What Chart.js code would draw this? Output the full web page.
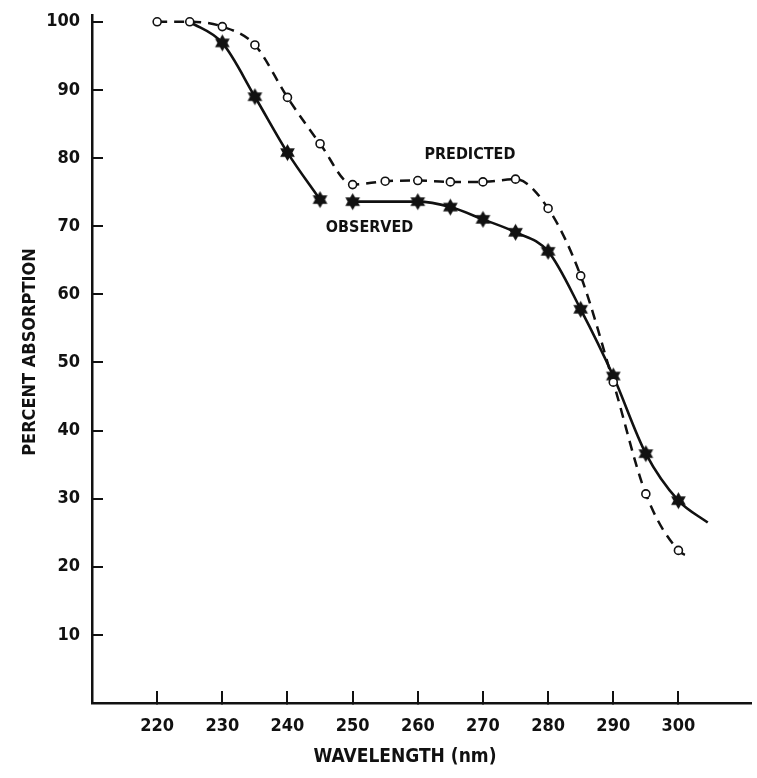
<!DOCTYPE html>
<html>
<head>
<meta charset="utf-8">
<title>Percent absorption vs wavelength</title>
<script src="https://cdn.jsdelivr.net/npm/chart.js@4.4.1/dist/chart.umd.min.js"></script>
<style>
  html, body { margin: 0; padding: 0; background: #fff; overflow: hidden; }
  #wrap { width: 757px; height: 778px; position: relative; }
  #chart { display: block; }
</style>
</head>
<body>
<div id="wrap"><canvas id="chart"></canvas></div>
<script>
"use strict";

// Data
const predictedX = [220, 225, 230, 235, 240, 245, 250, 255, 260, 265, 270, 275, 280, 285, 290, 295, 300, 302];
const predictedY = [100, 100, 99.3, 96.6, 88.9, 82.1, 76.1, 76.6, 76.7, 76.5, 76.5, 76.9, 72.6, 62.7, 47.1, 30.7, 22.4, 21.4];
const predictedMarked = [1, 1, 1, 1, 1, 1, 1, 1, 1, 1, 1, 1, 1, 1, 1, 1, 1, 0];

// observed curve has a break between 245 and 250
const observedX = [225, 230, 235, 240, 245, 247.5, 250, 260, 265, 270, 275, 280, 285, 290, 295, 300, 304.5];
const observedY = [100, 96.9, 89.0, 80.8, 73.9, null, 73.6, 73.6, 72.8, 71.0, 69.1, 66.3, 57.8, 48.0, 36.6, 29.7, 26.5];
const observedMarked = [0, 1, 1, 1, 1, 0, 1, 1, 1, 1, 1, 1, 1, 1, 1, 1, 0];

const xTicks = [220, 230, 240, 250, 260, 270, 280, 290, 300];
const yTicks = [10, 20, 30, 40, 50, 60, 70, 80, 90, 100];

// Curve labels, placed in data units
const curveLabels = [
    { text: 'PREDICTED', x: 268, y: 80.5 },
    { text: 'OBSERVED', x: 252.6, y: 69.7 }
];

const FONT = "'DejaVu Sans Condensed', 'DejaVu Sans', sans-serif";

// filled six-point star marker
function makeStar(r) {
    const c = document.createElement('canvas');
    const s = Math.ceil(r * 2 + 2);
    c.width = s; c.height = s;
    const g = c.getContext('2d');
    g.translate(s / 2, s / 2);
    g.beginPath();
    for (let i = 0; i < 12; i++) {
        const a = -Math.PI / 2 + i * Math.PI / 6;
        const rr = i % 2 === 0 ? r : r * 0.58;
        g.lineTo(Math.cos(a) * rr, Math.sin(a) * rr);
    }
    g.closePath();
    g.fillStyle = '#111';
    g.fill();
    return c;
}
const star = makeStar(8.5);

const toPoints = (xs, ys) => xs.map((x, i) => ({ x: x, y: ys[i] }));

const textPlugin = {
    id: 'figureText',
    afterDraw(chart) {
        const ctx = chart.ctx;
        const xs = chart.scales.x, ys = chart.scales.y;
        ctx.save();
        ctx.fillStyle = '#111';
        ctx.textAlign = 'center';
        ctx.textBaseline = 'middle';
        ctx.font = 'bold 16px ' + FONT;
        curveLabels.forEach(l => {
            ctx.fillText(l.text, xs.getPixelForValue(l.x), ys.getPixelForValue(l.y));
        });
        // axis titles
        ctx.font = 'bold 19px ' + FONT;
        ctx.fillText('WAVELENGTH (nm)', 405, 757);
        ctx.translate(30, 352);
        ctx.rotate(-Math.PI / 2);
        ctx.font = 'bold 18px ' + FONT;
        ctx.fillText('PERCENT ABSORPTION', 0, 0);
        ctx.restore();
    }
};

new Chart(document.getElementById('chart'), {
    type: 'line',
    data: {
        datasets: [{
            label: 'Predicted',
            data: toPoints(predictedX, predictedY),
            borderColor: '#111',
            borderWidth: 2.5,
            borderDash: [10, 7],
            cubicInterpolationMode: 'monotone',
            pointStyle: 'circle',
            pointRadius: predictedMarked.map(m => m ? 4 : 0),
            pointBackgroundColor: '#fff',
            pointBorderColor: '#111',
            pointBorderWidth: 1.6,
            fill: false
        }, {
            label: 'Observed',
            data: toPoints(observedX, observedY),
            borderColor: '#111',
            borderWidth: 2.6,
            spanGaps: false,
            cubicInterpolationMode: 'monotone',
            pointStyle: star,
            pointRadius: observedMarked.map(m => m ? 8 : 0),
            fill: false
        }]
    },
    options: {
        responsive: true,
        maintainAspectRatio: false,
        animation: false,
        events: [],
        layout: { padding: { top: 15, right: 0, left: 0, bottom: 0 } },
        plugins: {
            legend: { display: false },
            tooltip: { enabled: false }
        },
        scales: {
            x: {
                type: 'linear',
                min: 210,
                max: 311.2,
                afterBuildTicks: s => { s.ticks = xTicks.map(v => ({ value: v })); },
                afterFit: s => { s.height = 75; s.paddingLeft = 0; s.paddingRight = 0; },
                grid: { drawOnChartArea: false, drawTicks: true, tickLength: -12, color: '#111', lineWidth: 2 },
                border: { display: true, color: '#111', width: 2.5 },
                ticks: {
                    padding: 25,
                    color: '#111',
                    font: { family: FONT, size: 18, weight: 'bold' }
                }
            },
            y: {
                type: 'linear',
                min: 0,
                max: 101,
                afterBuildTicks: s => { s.ticks = yTicks.map(v => ({ value: v })); },
                afterFit: s => { s.width = 92; s.paddingTop = 0; s.paddingBottom = 0; },
                grid: { drawOnChartArea: false, drawTicks: true, tickLength: -11, color: '#111', lineWidth: 2 },
                border: { display: true, color: '#111', width: 2.5 },
                ticks: {
                    padding: 23,
                    color: '#111',
                    font: { family: FONT, size: 18, weight: 'bold' }
                }
            }
        }
    },
    plugins: [textPlugin]
});
</script>
</body>
</html>
